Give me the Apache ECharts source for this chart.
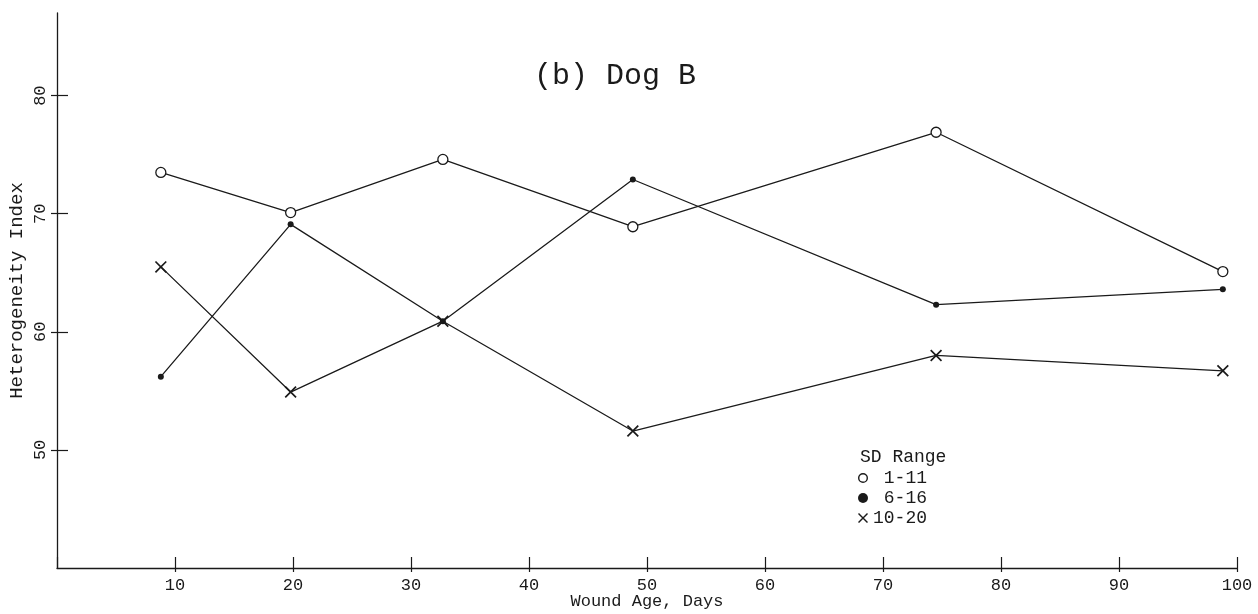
<!DOCTYPE html>
<html>
<head>
<meta charset="utf-8">
<script src="https://cdn.jsdelivr.net/npm/echarts@6/dist/echarts.min.js"></script>
<style>
html,body{margin:0;padding:0;background:#fff;}
#chart{width:1258px;height:614px;}
</style>
</head>
<body>
<div id="chart"></div>
<script>
// ---- data ----
const days = [8.8, 19.8, 32.7, 48.8, 74.5, 98.8];
const sd1to11 = [73.5, 70.1, 74.6, 68.9, 76.9, 65.1];
const sd6to16 = [56.2, 69.1, 60.9, 72.9, 62.3, 63.6];
const sd10to20 = [65.5, 54.9, 60.9, 51.6, 58.0, 56.7];
const seriesNames = ['1-11', '6-16', '10-20'];
const xTickValues = [10, 20, 30, 40, 50, 60, 70, 80, 90, 100];
const yTickValues = [50, 60, 70, 80];

const FONT = "'Liberation Mono', 'DejaVu Sans Mono', monospace";
const INK = '#1a1a1a';
const crossPath = 'path://M0,1L1,0L10,9L9,10Z M9,0L10,1L1,10L0,9Z';
const ringPath = 'path://M5,0A5,5,0,1,1,4.99,0Z M5,1.4A3.6,3.6,0,1,0,5.01,1.4Z';

function pairs(ys) { return days.map((d, i) => [d, ys[i]]); }

const G = { left: 57, right: 21, top: 13, bottom: 46 };
const gridW = 1258 - G.left - G.right;
const gridGeom = Object.assign({ containLabel: false, outerBoundsMode: 'none' }, G);

const option = {
  backgroundColor: '#fff',
  animation: false,
  title: [
    { text: '(b) Dog B', left: 529, top: 56,
      textStyle: { fontFamily: FONT, fontSize: 30, fontWeight: 'normal', color: INK } },
    { text: 'SD Range', left: 855, top: 443,
      textStyle: { fontFamily: FONT, fontSize: 18, fontWeight: 'normal', color: INK } }
  ],
  legend: {
    orient: 'vertical',
    left: 853, top: 464,
    itemWidth: 10, itemHeight: 10, itemGap: 2,
    textStyle: { fontFamily: FONT, fontSize: 18, color: INK },
    formatter: name => name.padStart(5, ' ').replace(/ /g, '\u00a0'),
    data: [
      { name: seriesNames[0], icon: ringPath, itemStyle: { color: INK, borderWidth: 0 } },
      { name: seriesNames[1], icon: 'circle', itemStyle: { color: INK, borderWidth: 0 } },
      { name: seriesNames[2], icon: crossPath, itemStyle: { color: INK, borderWidth: 0 } }
    ]
  },
  grid: [Object.assign({}, gridGeom), Object.assign({}, gridGeom)],
  xAxis: [
    { type: 'value', gridIndex: 0, min: 0, max: 100, interval: 10,
      name: 'Wound Age, Days', nameLocation: 'middle', nameGap: 25, nameMoveOverlap: false,
      nameTextStyle: { fontFamily: FONT, fontSize: 17, color: INK },
      axisLine: { show: true, onZero: false, lineStyle: { color: INK, width: 1.3 } },
      axisTick: { show: true, inside: true, length: 11, lineStyle: { color: INK, width: 1.2 } },
      axisLabel: { show: true, customValues: xTickValues, margin: 9, fontFamily: FONT, fontSize: 17, color: INK },
      splitLine: { show: false } },
    { type: 'value', gridIndex: 1, min: 0, max: 100, interval: 10, position: 'bottom',
      axisLine: { show: false, onZero: false },
      axisTick: { show: true, inside: false, length: 4, customValues: xTickValues, lineStyle: { color: INK, width: 1.2 } },
      axisLabel: { show: false }, splitLine: { show: false } }
  ],
  yAxis: [
    { type: 'value', gridIndex: 0, min: 40, max: 87, interval: 10, position: 'left',
      name: 'Heterogeneity Index', nameLocation: 'middle', nameGap: 31, nameMoveOverlap: false,
      nameTextStyle: { fontFamily: FONT, fontSize: 19, color: INK },
      axisLine: { show: true, onZero: false, lineStyle: { color: INK, width: 1.3 } },
      axisTick: { show: true, inside: false, length: 6, customValues: yTickValues, lineStyle: { color: INK, width: 1.2 } },
      axisLabel: { show: true, customValues: yTickValues, rotate: 90, margin: 8, fontFamily: FONT, fontSize: 17, color: INK },
      splitLine: { show: false } },
    // mirror axis moved onto the left edge so its outward ticks point into the plot
    { type: 'value', gridIndex: 1, min: 40, max: 87, interval: 10, position: 'right', offset: -gridW,
      axisLine: { show: false, onZero: false },
      axisTick: { show: true, inside: false, length: 11, customValues: yTickValues, lineStyle: { color: INK, width: 1.2 } },
      axisLabel: { show: false }, splitLine: { show: false } }
  ],
  series: [
    { name: seriesNames[0], type: 'line', xAxisIndex: 0, yAxisIndex: 0, data: pairs(sd1to11),
      symbol: 'circle', symbolSize: 10, z: 3,
      lineStyle: { color: INK, width: 1.3 },
      itemStyle: { color: '#fff', borderColor: INK, borderWidth: 1.3 } },
    { name: seriesNames[1], type: 'line', xAxisIndex: 0, yAxisIndex: 0, data: pairs(sd6to16),
      symbol: 'circle', symbolSize: 6, z: 2,
      lineStyle: { color: INK, width: 1.3 },
      itemStyle: { color: INK, borderWidth: 0 } },
    { name: seriesNames[2], type: 'line', xAxisIndex: 0, yAxisIndex: 0, data: pairs(sd10to20),
      symbol: crossPath, symbolSize: 12, z: 2,
      lineStyle: { color: INK, width: 1.3 },
      itemStyle: { color: INK, borderWidth: 0 } }
  ]
};

const chart = echarts.init(document.getElementById('chart'), null, { renderer: 'canvas' });
chart.setOption(option);
</script>
</body>
</html>
